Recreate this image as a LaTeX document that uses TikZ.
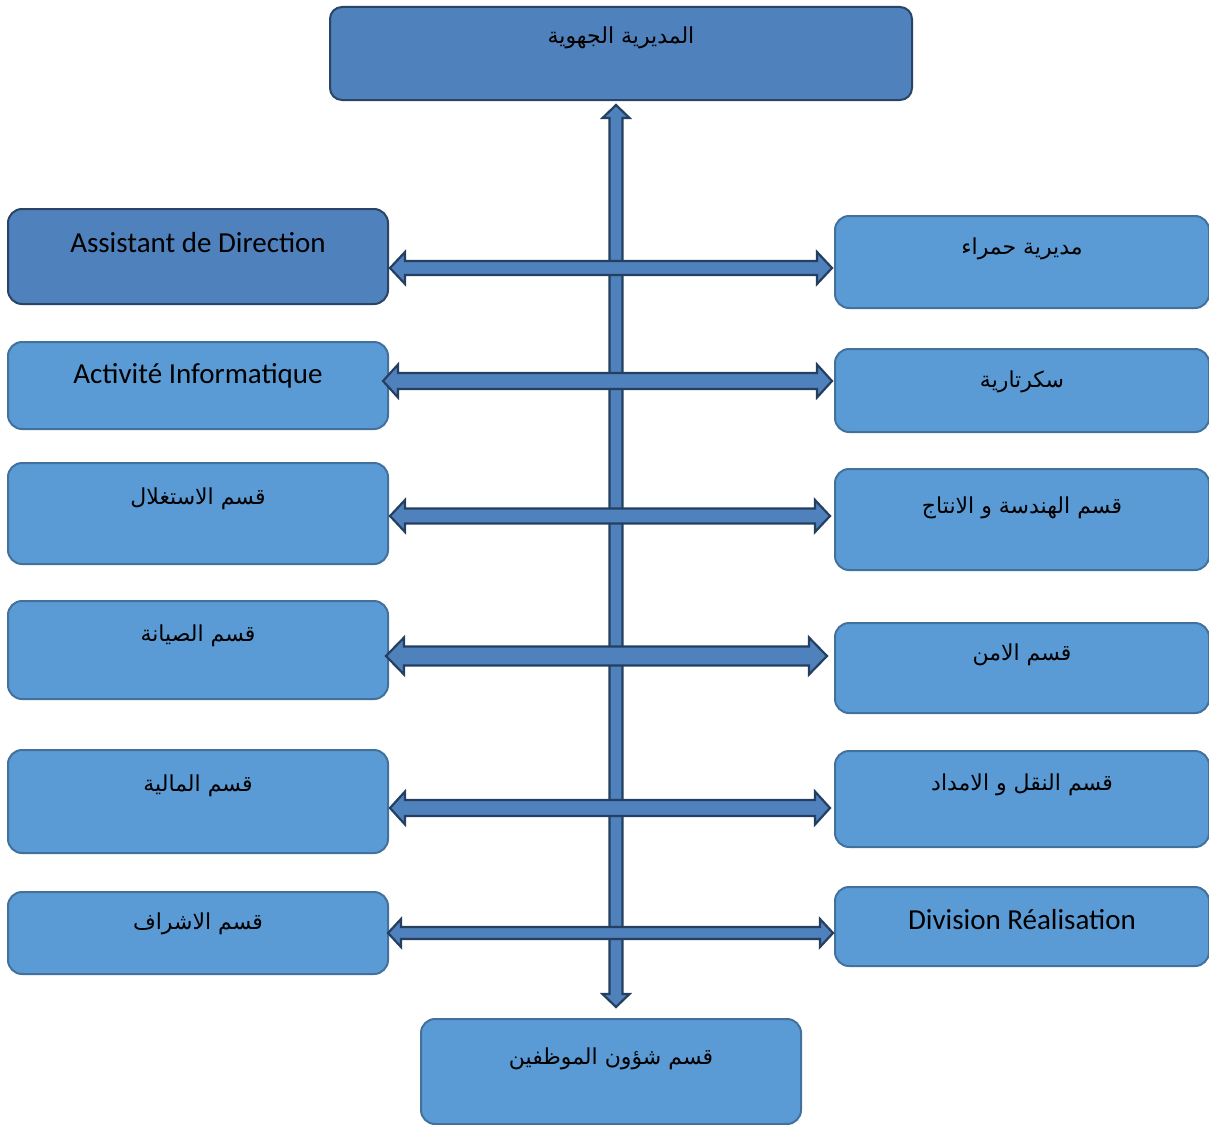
\documentclass[tikz,border=0pt]{standalone}
\usepackage{fontspec}
\setmainfont{Carlito}
\newfontfamily\arabicfont[Script=Arabic]{DejaVu Sans}
\TeXXeTstate=1
\usetikzlibrary{calc}
\definecolor{darkfill}{HTML}{4F81BD}
\definecolor{darkline}{HTML}{2A4466}
\definecolor{lightfill}{HTML}{5B9BD5}
\definecolor{lightline}{HTML}{41719C}
\definecolor{arrowfill}{HTML}{4F81BD}
\definecolor{arrowline}{HTML}{243F60}
\newcommand\artext[1]{{\arabicfont\fontsize{22}{26}\selectfont\beginR #1\endR}}
\newcommand\dblH[5]{\draw[fatarrow] (#1) -- ($(#1)+(#5,#4)$) -- ($(#1)+(#5,#3)$) -- ($(#2)+(-#5,#3)$) -- ($(#2)+(-#5,#4)$) -- (#2) -- ($(#2)+(-#5,-#4)$) -- ($(#2)+(-#5,-#3)$) -- ($(#1)+(#5,-#3)$) -- ($(#1)+(#5,-#4)$) -- cycle;}
\newcommand\dblV[5]{\draw[fatarrow] (#1) -- ($(#1)+(#4,#5)$) -- ($(#1)+(#3,#5)$) -- ($(#2)+(#3,-#5)$) -- ($(#2)+(#4,-#5)$) -- (#2) -- ($(#2)+(-#4,-#5)$) -- ($(#2)+(-#3,-#5)$) -- ($(#1)+(-#3,#5)$) -- ($(#1)+(-#4,#5)$) -- cycle;}
\tikzset{
  box/.style={draw, line width=2pt, rounded corners=14pt, anchor=north west, inner sep=0pt, align=center, font=\fontsize{29}{32}\selectfont},
  darkbox/.style={box, fill=darkfill, draw=darkline},
  lightbox/.style={box, fill=lightfill, draw=lightline},
  fatarrow/.style={fill=arrowfill, draw=arrowline, line width=2.2pt, line join=miter},
}
\begin{document}
\begin{tikzpicture}[x=1pt,y=-1pt]
\useasboundingbox (0,0) rectangle (1209,1124);
% top
\node[darkbox, rounded corners=12pt, minimum width=582pt, text height=37pt, text depth=56pt] (top) at (329,6) {\artext{المديرية الجهوية}};
% left column
\node[darkbox, minimum width=380pt, text height=43pt, text depth=52pt] (L1) at (7,208) {Assistant de Direction};
\node[lightbox, minimum width=380pt, text height=41pt, text depth=46pt] (L2) at (7,341) {Activité Informatique};
\node[lightbox, minimum width=380pt, text height=41pt, text depth=60pt] (L3) at (7,462) {\artext{قسم الاستغلال}};
\node[lightbox, minimum width=380pt, text height=40pt, text depth=58pt] (L4) at (7,600) {\artext{قسم الصيانة}};
\node[lightbox, minimum width=380pt, text height=41pt, text depth=62pt] (L5) at (7,749) {\artext{قسم المالية}};
\node[lightbox, minimum width=380pt, text height=37pt, text depth=45pt] (L6) at (7,891) {\artext{قسم الاشراف}};
% right column
\node[lightbox, minimum width=374pt, text height=38pt, text depth=54pt] (R1) at (834,215) {\artext{مديرية حمراء}};
\node[lightbox, minimum width=374pt, text height=38pt, text depth=45pt] (R2) at (834,348) {\artext{سكرتارية}};
\node[lightbox, minimum width=374pt, text height=44pt, text depth=57pt] (R3) at (834,468) {\artext{قسم الهندسة و الانتاج}};
\node[lightbox, minimum width=374pt, text height=37pt, text depth=53pt] (R4) at (834,622) {\artext{قسم الامن}};
\node[lightbox, minimum width=374pt, text height=39pt, text depth=57pt] (R5) at (834,750) {\artext{قسم النقل و الامداد}};
\node[lightbox, minimum width=374pt, text height=42pt, text depth=37pt] (R6) at (834,886) {Division Réalisation};
% bottom
\node[lightbox, minimum width=380pt, text height=45pt, text depth=60pt] (B) at (420,1018) {\artext{قسم شؤون الموظفين}};
% vertical double arrow
\coordinate (vt) at (616,105);
\coordinate (vb) at (616,1007);
\dblV{vt}{vb}{6.5}{13.5}{13}
% horizontal double arrows
\coordinate (h1l) at (390,268); \coordinate (h1r) at (832,268);
\coordinate (h2l) at (383,381); \coordinate (h2r) at (832,381);
\coordinate (h3l) at (390,516); \coordinate (h3r) at (830,516);
\coordinate (h4l) at (386,656); \coordinate (h4r) at (827,656);
\coordinate (h5l) at (390,808); \coordinate (h5r) at (830,808);
\coordinate (h6l) at (388,933); \coordinate (h6r) at (833,933);
\dblH{h1l}{h1r}{7}{16}{15}
\dblH{h2l}{h2r}{8}{16.5}{15}
\dblH{h3l}{h3r}{7.5}{16}{15}
\dblH{h4l}{h4r}{9.5}{18.5}{18}
\dblH{h5l}{h5r}{8}{16.5}{15}
\dblH{h6l}{h6r}{6}{14}{13}
\end{tikzpicture}
\end{document}
